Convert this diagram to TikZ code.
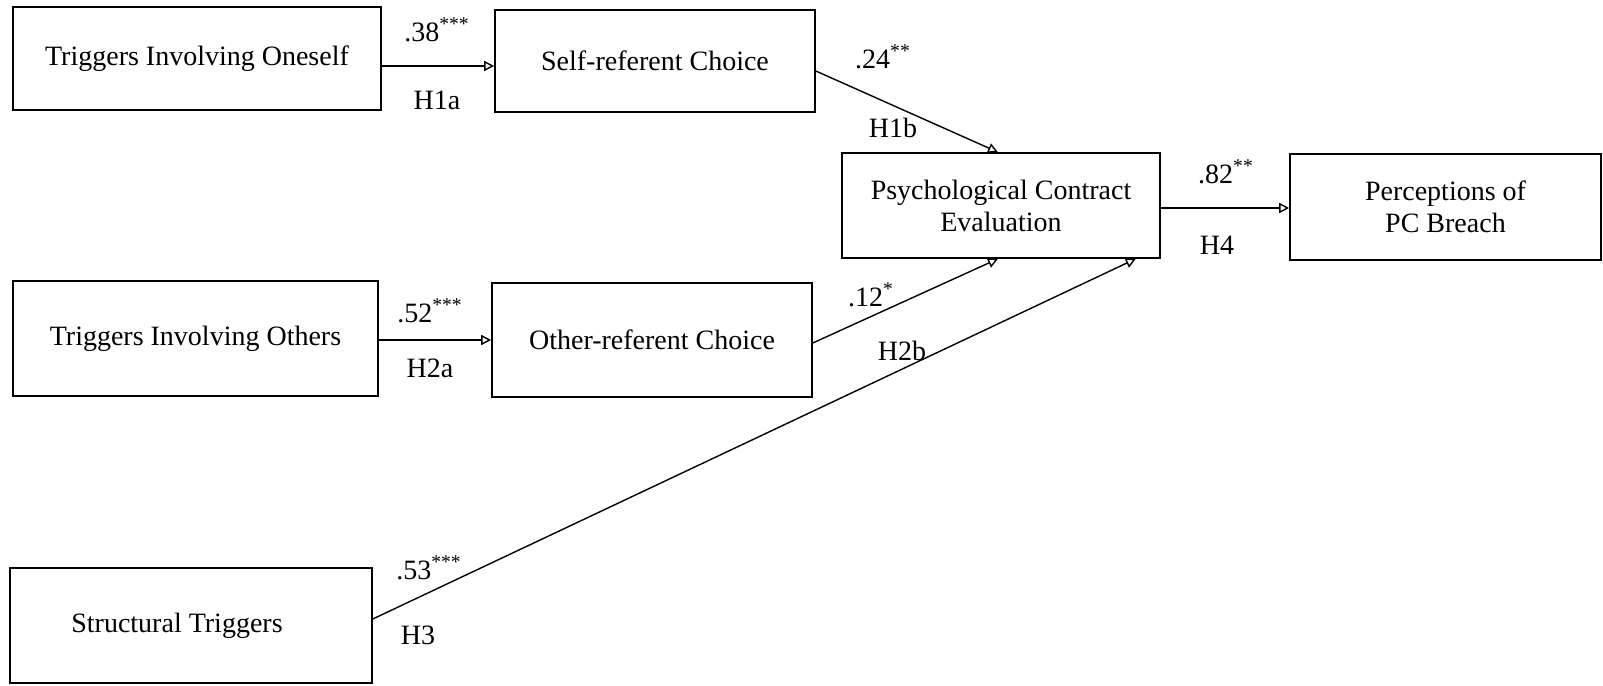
\documentclass[tikz,border=0pt]{standalone}
\usepackage{fontspec}
\setmainfont{Liberation Serif}
\usetikzlibrary{arrows.meta}

\begin{document}
\begin{tikzpicture}[
    x=0.5pt, y=0.5pt,
    font=\fontsize{14pt}{16pt}\selectfont,
    block/.style={draw, line width=0.8pt, align=center, inner sep=2pt},
    link/.style={-{Triangle[open,length=5pt,width=5pt]}, line width=0.7pt},
    est/.style={inner sep=0pt}
    ]
	\useasboundingbox (0,0) rectangle (1603,686);
	\node [block, minimum width=184pt, minimum height=51.5pt] (oneself) at (197,627.5) {Triggers Involving Oneself};
	\node [block, minimum width=160pt, minimum height=51pt] (selfref) at (655,625) {Self-referent Choice};
	\node [block, minimum width=159pt, minimum height=52.5pt] (pce) at (1001,480.5) {Psychological Contract\\Evaluation};
	\node [block, minimum width=155.5pt, minimum height=53pt] (breach) at (1445.5,479) {Perceptions of\\PC Breach};
	\node [block, minimum width=182.5pt, minimum height=57.5pt] (others) at (195.5,347.5) {Triggers Involving Others};
	\node [block, minimum width=160pt, minimum height=57pt] (otherref) at (652,346) {Other-referent Choice};
	\node [block, minimum width=181pt, minimum height=57.5pt] (structural) at (191,60.5) {Structural Triggers\hspace*{14pt}};

	\draw [link] ([yshift=-3.75pt]oneself.east) -- ([yshift=-2.5pt]selfref.west);
	\draw [link] ([yshift=-5pt]selfref.east) -- ([xshift=-1.5pt]pce.north);
	\draw [link] ([yshift=-1.25pt]pce.east) -- ([yshift=-0.5pt]breach.west);
	\draw [link] ([yshift=-0.75pt]others.east) -- (otherref.west);
	\draw [link] ([yshift=-1.5pt]otherref.east) -- ([xshift=-1.5pt]pce.south);
	\draw [link] ([yshift=3.25pt]structural.east) -- ([xshift=-12.5pt]pce.south east);

	\node [est] (c38) at (437,656) {.38\textsuperscript{***}};
	\node [est] (h1a) at (437,586) {H1a};
	\node [est] (c24) at (883,629) {.24\textsuperscript{**}};
	\node [est] (h1b) at (893,558) {H1b};
	\node [est] (c82) at (1226,514) {.82\textsuperscript{**}};
	\node [est] (h4) at (1217,441) {H4};
	\node [est] (c52) at (430,375) {.52\textsuperscript{***}};
	\node [est] (h2a) at (430,318) {H2a};
	\node [est] (c12) at (871,391) {.12\textsuperscript{*}};
	\node [est] (h2b) at (902,335) {H2b};
	\node [est] (c53) at (429,118) {.53\textsuperscript{***}};
	\node [est] (h3) at (418,51) {H3};
\end{tikzpicture}
\end{document}
